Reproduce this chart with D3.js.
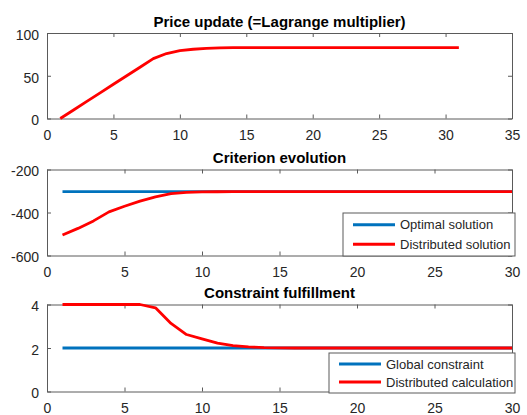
<!DOCTYPE html>
<html><head><meta charset="utf-8">
<script src="https://cdn.jsdelivr.net/npm/d3@7"></script>
<style>
html,body{margin:0;padding:0;background:#fff;}
svg{display:block;font-family:Arial,"Liberation Sans",Helvetica,sans-serif;}
</style></head>
<body>
<script>
// Panel 1: price update
const priceIter = d3.range(1, 32);
const priceVals = [0,10,20,30,40,50,60,70,76,79.5,81,82,82.5,82.8,83,83,83,83,83,83,83,83,83,83,83,83,83,83,83,83,83];

// Panel 2: criterion evolution
const critIter = d3.range(1, 31);
const critOptimal = critIter.map(() => -303);
const critDistributed = [-505,-474,-439,-397,-371,-347,-327,-312,-306,-304,-303.5,-303,-303,-303,-303,-303,-303,-303,-303,-303,-303,-303,-303,-303,-303,-303,-303,-303,-303,-303];

// Panel 3: constraint fulfillment
const consIter = d3.range(1, 31);
const consGlobal = consIter.map(() => 2);
const consDistributed = [4,4,4,4,4,4,3.85,3.13,2.62,2.42,2.22,2.11,2.05,2.02,2.01,2,2,2,2,2,2,2,2,2,2,2,2,2,2,2];

const titles = ["Price update (=Lagrange multiplier)", "Criterion evolution", "Constraint fulfillment"];
const xTicks1 = [0,5,10,15,20,25,30,35];
const xTicks23 = [0,5,10,15,20,25,30];
const yTicks1 = [0,50,100];
const yTicks2 = [-600,-400,-200];
const yTicks3 = [0,2,4];
const legend2 = ["Optimal solution", "Distributed solution"];
const legend3 = ["Global constraint", "Distributed calculation"];

const W = 527, H = 415;
const BLUE = "#0072BD", RED = "#FF0000", AX = "#5a5a5a", TXT = "#262626";

const svg = d3.select("body").append("svg").attr("width", W).attr("height", H);

const panels = [
  {top:33, bottom:118.5, xdom:[0,35], xt:xTicks1, ydom:[0,100], yt:yTicks1, title:titles[0], titleY:22,
   series:[{x:priceIter, y:priceVals, c:RED}]},
  {top:169.5, bottom:255.5, xdom:[0,30], xt:xTicks23, ydom:[-600,-200], yt:yTicks2, title:titles[1], titleY:158,
   series:[{x:critIter, y:critOptimal, c:BLUE},{x:critIter, y:critDistributed, c:RED}],
   legend:{names:legend2, x0:343, y0:213, w:172, h:43}},
  {top:304.5, bottom:391.5, xdom:[0,30], xt:xTicks23, ydom:[0,4], yt:yTicks3, title:titles[2], titleY:293,
   series:[{x:consIter, y:consGlobal, c:BLUE},{x:consIter, y:consDistributed, c:RED}],
   legend:{names:legend3, x0:329, y0:353, w:186, h:40}}
];

const L = 47, R = 512;

panels.forEach(p => {
  const x = d3.scaleLinear().domain(p.xdom).range([L, R]);
  const y = d3.scaleLinear().domain(p.ydom).range([p.bottom, p.top]);
  const g = svg.append("g");

  const styleAxis = (sel) => {
    sel.selectAll(".domain").attr("stroke", AX).attr("stroke-width", 1);
    sel.selectAll(".tick line").attr("stroke", AX);
    sel.selectAll("text").attr("fill", TXT).attr("font-size", "14px").attr("font-family", "Arial, 'Liberation Sans', sans-serif");
  };

  // bottom
  g.append("g").attr("transform", `translate(0,${p.bottom})`)
    .call(d3.axisBottom(x).tickValues(p.xt).tickSizeInner(-4).tickSizeOuter(0).tickPadding(12).tickFormat(d3.format("d")))
    .call(styleAxis);
  // top
  g.append("g").attr("transform", `translate(0,${p.top})`)
    .call(d3.axisTop(x).tickValues(p.xt).tickSizeInner(-4).tickSizeOuter(0).tickFormat(""))
    .call(styleAxis);
  // left
  const ly = g.append("g").attr("transform", `translate(${L},0)`)
    .call(d3.axisLeft(y).tickValues(p.yt).tickSizeInner(-4).tickSizeOuter(0).tickPadding(8).tickFormat(d => String(d)))
    .call(styleAxis);
  ly.selectAll("text").attr("dy", "0.45em");
  // right
  g.append("g").attr("transform", `translate(${R},0)`)
    .call(d3.axisRight(y).tickValues(p.yt).tickSizeInner(-4).tickSizeOuter(0).tickFormat(""))
    .call(styleAxis);

  // title
  g.append("text").attr("x", (L+R)/2).attr("y", p.titleY).attr("dy", "0.35em")
    .attr("text-anchor", "middle").attr("font-weight", "bold").attr("font-size", "15px")
    .attr("fill", "#000").text(p.title);

  const line = d3.line().x(d => x(d[0])).y(d => y(d[1]));
  p.series.forEach(s => {
    g.append("path").datum(s.x.map((v,i) => [v, s.y[i]]))
      .attr("d", line).attr("fill", "none").attr("stroke", s.c)
      .attr("stroke-width", 2.8).attr("stroke-linejoin", "round");
  });

  if (p.legend) {
    const lg = p.legend;
    const lgG = svg.append("g");
    lgG.append("rect").attr("x", lg.x0).attr("y", lg.y0).attr("width", lg.w).attr("height", lg.h)
      .attr("fill", "#fff").attr("stroke", AX).attr("stroke-width", 1);
    const rowH = lg.h / 2;
    lg.names.forEach((n, i) => {
      const cy = lg.y0 + rowH * (i + 0.5) + (i === 0 ? 1 : -1);
      lgG.append("line").attr("x1", lg.x0 + 10).attr("x2", lg.x0 + 52).attr("y1", cy).attr("y2", cy)
        .attr("stroke", p.series[i].c).attr("stroke-width", 2.8);
      lgG.append("text").attr("x", lg.x0 + 57).attr("y", cy).attr("dy", "0.35em")
        .attr("font-size", "13px").attr("fill", TXT).text(n);
    });
  }
});
</script>
</body></html>
